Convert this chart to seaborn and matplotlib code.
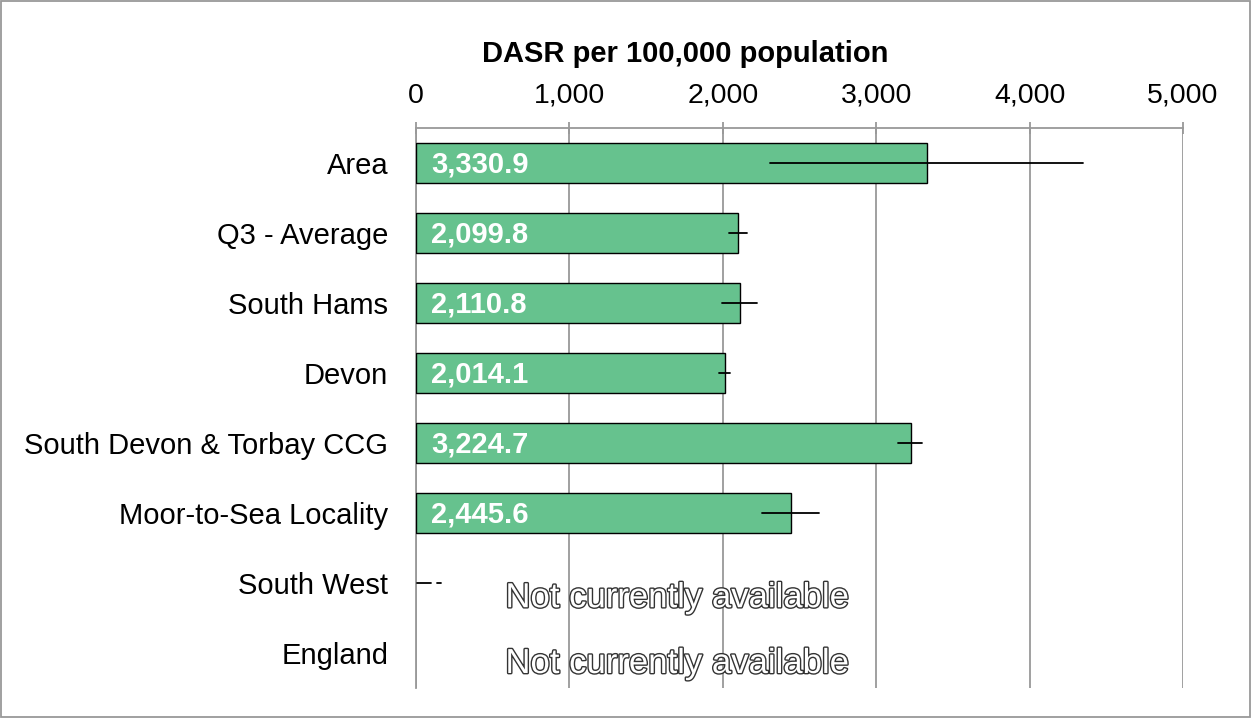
import numpy as np
import pandas as pd
import matplotlib.pyplot as plt
import matplotlib.patheffects as pe
import seaborn as sns

# DATA
categories = ["Area", "Q3 - Average", "South Hams", "Devon",
              "South Devon & Torbay CCG", "Moor-to-Sea Locality",
              "South West", "England"]
values = [3330.9, 2099.8, 2110.8, 2014.1, 3224.7, 2445.6, np.nan, np.nan]
lower_ci = [2308, 2040, 1993, 1975, 3144, 2258, np.nan, np.nan]
upper_ci = [4348, 2156, 2222, 2047, 3300, 2627, np.nan, np.nan]
missing_text = "Not currently available"
xticks = [0, 1000, 2000, 3000, 4000, 5000]

df = pd.DataFrame({"area": categories, "value": values})

sns.set_style("white")
plt.rcParams["font.family"] = ["Liberation Sans", "DejaVu Sans"]
plt.rcParams["text.color"] = "black"
plt.rcParams["xtick.labelcolor"] = "black"
plt.rcParams["ytick.labelcolor"] = "black"
plt.rcParams["axes.labelcolor"] = "black"

fig = plt.figure(figsize=(12.51, 7.18), dpi=100)
ax = fig.add_axes([416 / 1251, 1 - 688 / 718, 767 / 1251, 560 / 718])

sns.barplot(data=df, x="value", y="area", order=categories, orient="h",
            color="#66c28e", saturation=1, edgecolor="black", linewidth=1,
            width=0.57, ax=ax, zorder=3)

# confidence intervals
for i in range(len(categories)):
    if not np.isnan(values[i]):
        ax.plot([lower_ci[i], upper_ci[i]], [i, i], color="black", lw=1.3, zorder=4)
        ax.text(100, i + 0.02, f"{values[i]:,.1f}", color="white", fontsize=21,
                fontweight="bold", va="center", ha="left", zorder=5)

# stray marker on South West row
ax.plot([5, 100], [6, 6], color="black", lw=1.3, zorder=4)
ax.plot([135, 165], [6, 6], color="black", lw=1.3, zorder=4)

for i in (6, 7):
    ax.text(1705, i + 0.21 - 0.06 * (i - 6), missing_text, fontsize=25,
            color="white", ha="center", va="center", zorder=5,
            path_effects=[pe.withStroke(linewidth=2, foreground="#333333")])

ax.set_xlim(0, 5000)
ax.set_ylim(len(categories) - 0.5, -0.5)
ax.set_xticks(xticks)
ax.set_xticklabels([f"{t:,}" for t in xticks])
ax.xaxis.tick_top()
ax.xaxis.set_label_position("top")
ax.set_xlabel("DASR per 100,000 population", fontsize=21, fontweight="bold",
              labelpad=15)
ax.xaxis.label.set_x((685 - 416) / 767)
ax.set_ylabel("")
ax.tick_params(axis="x", labelsize=20.5, direction="inout", length=8,
               color="#999999", width=1.3, pad=10)
ax.tick_params(axis="y", labelsize=21, length=0, pad=20)

# y ticks between categories
ax.set_yticks(np.arange(-0.5, len(categories), 1), minor=True)
ax.tick_params(axis="y", which="minor", length=8, color="#999999", width=1.3)

ax.grid(axis="x", color="#999999", lw=1.3, zorder=0)
ax.set_axisbelow(True)
for side in ["right", "bottom"]:
    ax.spines[side].set_visible(False)
for side in ["top", "left"]:
    ax.spines[side].set_color("#999999")
    ax.spines[side].set_linewidth(1.3)

fig.patches.append(plt.Rectangle((0.001, 0.001), 0.998, 0.997,
                                 transform=fig.transFigure, fill=False,
                                 edgecolor="#999999", lw=1.3))

fig.savefig("out.png", dpi=100)
